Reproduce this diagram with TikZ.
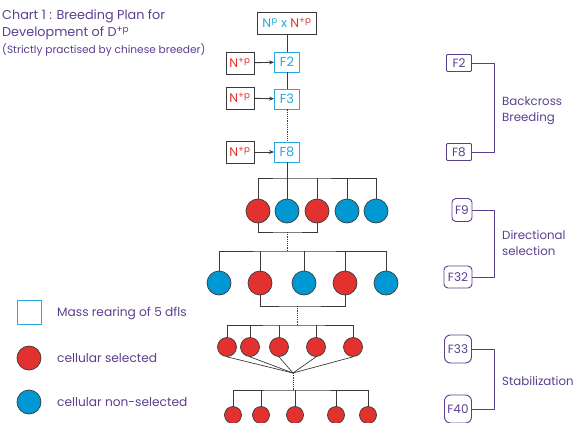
\documentclass[tikz,border=0pt]{standalone}
\usepackage{fontspec}
\setmainfont{Poppins}
\usetikzlibrary{arrows.meta}
\definecolor{pur}{HTML}{5B3F8F}
\definecolor{rd}{HTML}{E3312F}
\definecolor{bl}{HTML}{0098D3}
\definecolor{cy}{HTML}{29A8DF}
\definecolor{ln}{HTML}{3A3A3A}
\tikzset{
  ptxt/.style={text=pur, font=\fontsize{12.2}{14}\selectfont, align=left, inner sep=0pt},
  fbox/.style={draw=cy, line width=0.9pt, text=cy, font=\fontsize{13}{13}\selectfont, minimum width=25pt, minimum height=20pt, inner sep=0pt},
  nbox/.style={draw=ln, line width=0.9pt, text=rd, font=\fontsize{12.5}{13}\selectfont, minimum width=28pt, minimum height=22pt, inner sep=0pt},
  rbox/.style={draw=pur, line width=0.9pt, text=pur, font=\fontsize{12}{12}\selectfont, minimum height=17pt, inner sep=1.5pt},
  redc/.style={circle, fill=rd, draw=ln, line width=0.7pt, minimum size=#1, inner sep=0pt},
  bluc/.style={circle, fill=bl, draw=ln, line width=0.7pt, minimum size=#1, inner sep=0pt},
  conn/.style={draw=ln, line width=0.9pt},
  dotc/.style={draw=ln, line width=0.9pt, dash pattern=on 1.2pt off 1pt},
  brk/.style={draw=pur, line width=0.9pt},
  rtxt/.style={ptxt, anchor=west, font=\fontsize{11.8}{16}\selectfont}
}
\begin{document}
\begin{tikzpicture}[x=1pt,y=-1pt]
\useasboundingbox (0,0) rectangle (584,423);
% title
\node[ptxt, anchor=north west, font=\fontsize{12.8}{16.5}\selectfont] (t1) at (2,10) {Chart 1 : Breeding Plan for\\Development of D\textsuperscript{+p}};
\node[ptxt, anchor=north west, font=\fontsize{10.6}{12}\selectfont] (t2) at (2,43) {(Strictly practised by chinese breeder)};
% top chain
\node[draw=ln, line width=0.9pt, minimum width=59pt, minimum height=22pt, inner sep=0pt, font=\fontsize{12.5}{13}\selectfont] (top) at (287,23) {\textcolor{cy}{N\textsuperscript{p} x} \textcolor{rd}{N\textsuperscript{+p}}};
\node[fbox] (f2) at (287,62) {F2};
\node[fbox] (f3) at (287,99) {F3};
\node[fbox] (f8) at (287,152) {F8};
\node[nbox] (n2) at (240,63) {N\textsuperscript{+p}};
\node[nbox] (n3) at (240,98) {N\textsuperscript{+p}};
\node[nbox] (n8) at (240,152) {N\textsuperscript{+p}};
\draw[conn] (top) -- (f2);
\draw[conn] (f2) -- (f3);
\draw[dotc] (f3) -- (f8);
\foreach \a/\b in {n2/f2,n3/f3,n8/f8}
  \draw[conn,-{Stealth[length=5pt,width=4pt]}] (\a) -- (\b);
% layer 1
\node[redc=24pt] (c11) at (258,211) {};
\node[bluc=24pt] (c12) at (287,211) {};
\node[redc=24pt] (c13) at (317,211) {};
\node[bluc=24pt] (c14) at (347,211) {};
\node[bluc=24pt] (c15) at (376,211) {};
\coordinate (b1) at (287,178);
\draw[conn] (f8) -- (b1);
\draw[conn] (c11.north) |- (b1) -| (c15.north);
\foreach \c in {c12,c13,c14} \draw[conn] (\c.north) -- (\c |- b1);
% layer 2
\coordinate (j1) at (287,232);
\coordinate (b2) at (287,251);
\draw[conn] (c11.south) |- (j1) -| (c13.south);
\draw[dotc] (j1) -- (b2);
\node[bluc=24pt] (c21) at (219,283) {};
\node[redc=24pt] (c22) at (260,283) {};
\node[bluc=24pt] (c23) at (304,283) {};
\node[redc=24pt] (c24) at (345,283) {};
\node[bluc=24pt] (c25) at (386,283) {};
\draw[conn] (c21.north) |- (b2) -| (c25.north);
\foreach \c in {c22,c23,c24} \draw[conn] (\c.north) -- (\c |- b2);
% layer 3
\coordinate (j2) at (297,306);
\coordinate (b3) at (297,325);
\draw[conn] (c22.south) |- (j2) -| (c24.south);
\draw[dotc] (j2) -- (b3);
\node[redc=19pt] (c31) at (227,347) {};
\node[redc=19pt] (c32) at (250,347) {};
\node[redc=19pt] (c33) at (279,347) {};
\node[redc=19pt] (c34) at (316,347) {};
\node[redc=19pt] (c35) at (353,347) {};
\draw[conn] (c31.north) |- (b3) -| (c35.north);
\foreach \c in {c32,c33,c34} \draw[conn] (\c.north) -- (\c |- b3);
% converge
\coordinate (j3) at (293,373);
\coordinate (b4) at (293,390);
\foreach \c in {c31,c32,c33,c34,c35} \draw[conn, line width=0.7pt] (\c.south) -- (j3);
\draw[dotc] (j3) -- (b4);
\node[redc=17pt] (c41) at (233,415) {};
\node[redc=17pt] (c42) at (261,415) {};
\node[redc=17pt] (c43) at (295,415) {};
\node[redc=17pt] (c44) at (336,415) {};
\node[redc=17pt] (c45) at (368,415) {};
\draw[conn] (c41.north) |- (b4) -| (c45.north);
\foreach \c in {c42,c43,c44} \draw[conn] (\c.north) -- (\c |- b4);
% legend
\node[draw=cy, line width=0.9pt, minimum size=24pt, inner sep=0pt] (lsq) at (29,312) {};
\node[redc=24pt] (lrd) at (29,358) {};
\node[bluc=24pt] (lbl) at (29,402) {};
\node[ptxt, anchor=west] (l1) at (57,313) {Mass rearing of 5 dfls};
\node[ptxt, anchor=west] (l2) at (57,358) {cellular selected};
\node[ptxt, anchor=west] (l3) at (57,402) {cellular non-selected};
% right brackets
\node[rbox, rounded corners=1pt, minimum width=25pt] (r2) at (459,63) {F2};
\node[rbox, rounded corners=1pt, minimum width=25pt] (r8) at (459,152) {F8};
\draw[brk] (r2.east) -- (494,63) |- (r8.east);
\node[rtxt] (bb) at (502,111) {Backcross\\Breeding};
\node[rbox, rounded corners=4pt, minimum width=20pt, minimum height=23pt] (r9) at (462,210) {F9};
\node[rbox, rounded corners=4pt, minimum width=28pt, minimum height=22pt] (r32) at (458,277) {F32};
\draw[brk] (r9.east) -- (494,210) |- (r32.east);
\node[rtxt] (ds) at (502,243) {Directional\\selection};
\node[rbox, rounded corners=6pt, minimum width=27pt, minimum height=28pt] (r33) at (458,349) {F33};
\node[rbox, rounded corners=6pt, minimum width=27pt, minimum height=28pt] (r40) at (458,409) {F40};
\draw[brk] (r33.east) -- (494,349) |- (r40.east);
\node[rtxt] (st) at (502,381) {Stabilization};
\end{tikzpicture}
\end{document}
